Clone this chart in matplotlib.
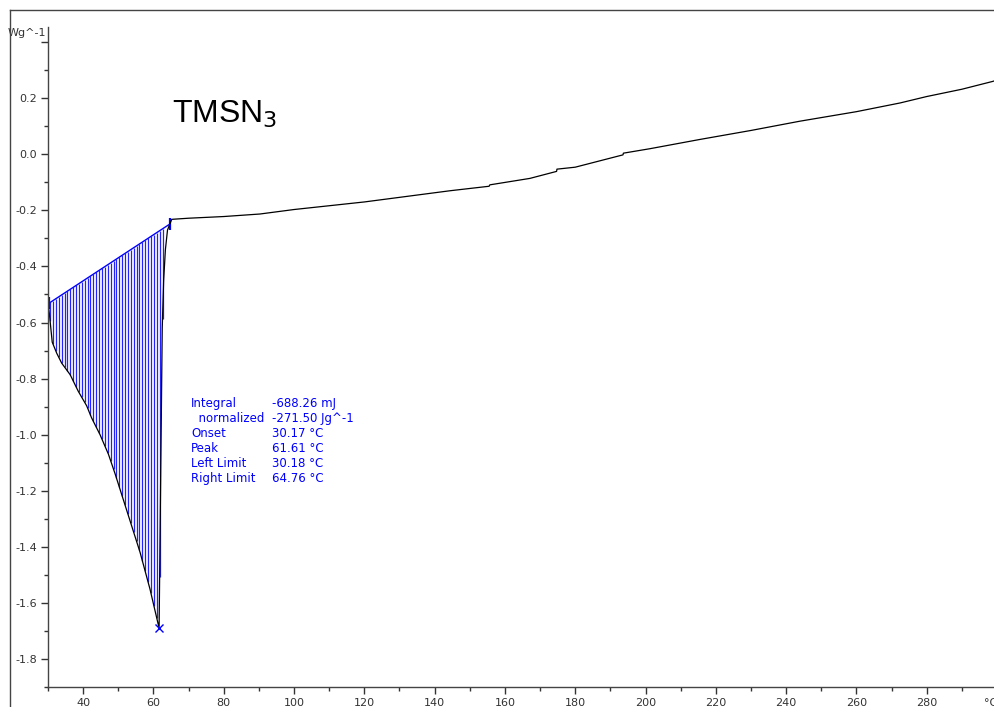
import numpy as np
import matplotlib
matplotlib.use('Agg')
from matplotlib import pyplot as plt
from matplotlib.lines import Line2D
import matplotlib.transforms as mtransforms

# DSC curve (temperature in degC, heat flow in W/g)
temp = [30.0, 30.4, 30.8, 31.2, 32.5, 33.9, 36.3, 38.6, 41.0, 42.4, 44.8,
        47.2, 49.1, 52.4, 56.2, 59.0, 61.61, 62.1, 62.5, 62.9, 63.4, 64.0,
        65.2, 70.0, 80.0, 90.3, 100.0, 120.0, 144.4, 155.5, 155.7, 167.1,
        174.7, 174.8, 180.0, 193.6, 193.7, 201.3, 215.5, 230.0, 243.9,
        260.0, 272.4, 280.0, 290.0, 298.8, 300.0]
flow = [-0.53, -0.57, -0.62, -0.67, -0.71, -0.745, -0.786, -0.845, -0.897,
        -0.94, -1.0, -1.07, -1.14, -1.27, -1.42, -1.55, -1.69, -1.1, -0.62,
        -0.45, -0.34, -0.27, -0.232, -0.228, -0.222, -0.213, -0.197,
        -0.17, -0.13, -0.114, -0.109, -0.086, -0.061, -0.053, -0.046,
        -0.002, 0.004, 0.02, 0.053, 0.085, 0.118, 0.152, 0.183, 0.206,
        0.232, 0.26, 0.265]

# integration limits / baseline
left_limit = 30.18
right_limit = 64.76
base_left = -0.532
base_right = -0.248
peak_t = 61.61
peak_y = -1.69

result_names = ['Integral', '  normalized', 'Onset', 'Peak', 'Left Limit', 'Right Limit']
result_values = ['-688.26 mJ', '-271.50 Jg^-1', '30.17 °C', '61.61 °C', '30.18 °C', '64.76 °C']

xticks = [40, 60, 80, 100, 120, 140, 160, 180, 200, 220, 240, 260, 280, 300]
xticklabels = ['40', '60', '80', '100', '120', '140', '160', '180', '200',
               '220', '240', '260', '280', '°C']
yticks = [0.4, 0.2, 0.0, -0.2, -0.4, -0.6, -0.8, -1.0, -1.2, -1.4, -1.6, -1.8]
yticklabels = ['', '0.2', '0.0', '-0.2', '-0.4', '-0.6', '-0.8', '-1.0',
               '-1.2', '-1.4', '-1.6', '-1.8']

plt.rcParams['font.family'] = 'DejaVu Sans'
fig = plt.figure(figsize=(9.94, 7.07), dpi=100)
ax = fig.add_axes([48/994, 20/707, 949/994, 660/707])

# hatching between baseline and curve
hx = np.arange(30.6, 62.8, 0.82)
hbot = np.interp(hx, temp, flow)
htop = np.interp(hx, [left_limit, right_limit], [base_left, base_right])
ax.vlines(hx, hbot, htop, color='#2222ff', lw=0.9)
ax.plot([left_limit, right_limit], [base_left, base_right], color='#0000ff', lw=1.0)
ax.plot([left_limit, right_limit], [base_left, base_right], ls='none',
        marker='|', ms=9, mew=1.6, color='#0000ff')

ax.plot(temp, flow, color='black', lw=0.9)
ax.plot([peak_t], [peak_y], marker='x', ms=6, mew=1.0, color='#0000ff')

ax.set_xlim(30, 300)
ax.set_ylim(-1.887, 0.454)
ax.set_xticks(xticks)
ax.set_xticklabels(xticklabels)
ax.get_xticklabels()[-1].set_horizontalalignment('right')
ax.set_xticks(np.arange(30, 301, 10), minor=True)
ax.set_yticks(yticks)
ax.set_yticklabels(yticklabels)
ax.set_yticks(np.arange(-1.9, 0.45, 0.1), minor=True)
ax.tick_params(which='both', direction='out', colors='#333333', labelsize=8,
               width=1.0)
ax.tick_params(which='major', length=5, pad=3)
ax.tick_params(which='minor', length=3)
for s in ['top', 'right']:
    ax.spines[s].set_visible(False)
for s in ['left', 'bottom']:
    ax.spines[s].set_color('#444444')
    ax.spines[s].set_linewidth(1.0)

trans = mtransforms.blended_transform_factory(ax.transAxes, ax.transData)
ax.text(-0.002, 0.433, 'Wg^-1', transform=trans, ha='right', va='center',
        fontsize=8, color='#333333')

ax.text(0.131, 0.867, 'TMSN$_3$', transform=ax.transAxes, fontsize=23,
        family='Liberation Sans', ha='left', va='center')

for i in range(len(result_names)):
    y = 0.429 - i * 0.0227
    ax.text(0.151, y, result_names[i], transform=ax.transAxes, fontsize=8.5,
            color='#0000ff', va='center')
    ax.text(0.236, y, result_values[i], transform=ax.transAxes, fontsize=8.5,
            color='#0000ff', va='center')

# outer frame
fig.add_artist(Line2D([10/994, 1], [1 - 10/707, 1 - 10/707], color='#444444', lw=1.0))
fig.add_artist(Line2D([10/994, 10/994], [0, 1 - 10/707], color='#444444', lw=1.0))

fig.savefig('out.png', dpi=100)
